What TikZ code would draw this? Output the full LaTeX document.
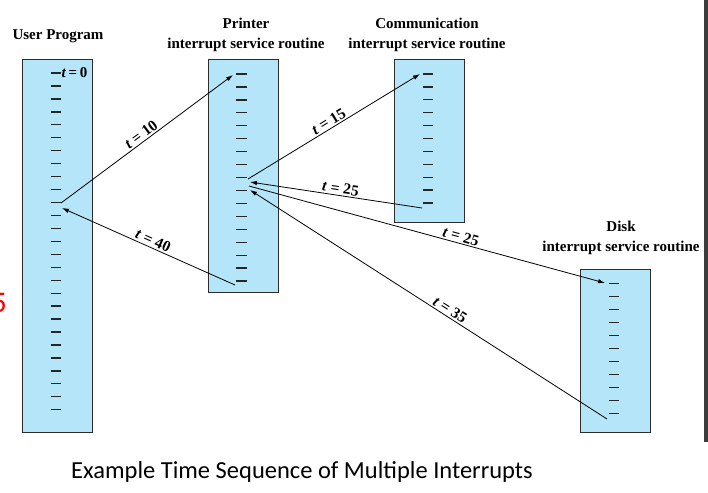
\documentclass[tikz,border=0pt]{standalone}
\usepackage{fontspec}
\setmainfont{Liberation Serif}
\newfontfamily\capfont{Carlito}
\usetikzlibrary{arrows.meta}
\definecolor{boxblue}{RGB}{180,229,248}
\definecolor{edgegray}{RGB}{45,45,45}
\definecolor{bargray}{RGB}{60,60,60}
\begin{document}
\begin{tikzpicture}[x=1pt,y=-1pt,
  isr/.style={draw=edgegray, line width=1.3pt, fill=boxblue, inner sep=0pt, anchor=north west},
  tickmark/.style={line width=1.3pt, draw=black!85},
  arr/.style={line width=0.8pt, -{Latex[length=7pt,width=4.5pt]}},
  hdr/.style={font=\bfseries\fontsize{15}{20}\selectfont, align=center, inner sep=0pt},
  lbl/.style={font=\bfseries\fontsize{15.5}{17}\selectfont, sloped, above, inner sep=1.5pt},
  capt/.style={font=\capfont\fontsize{24.5}{28}\selectfont, inner sep=0pt}
]
\clip (0,0) rectangle (708,492);
\fill[white] (0,0) rectangle (708,492);

% boxes
\node[isr, minimum width=70, minimum height=373] (user) at (22,59) {};
\node[isr, minimum width=70, minimum height=233] (printer) at (208,59) {};
\node[isr, minimum width=70, minimum height=163] (comm) at (394,59) {};
\node[isr, minimum width=70, minimum height=163] (disk) at (580,269) {};

% ticks
\foreach \k in {0,...,26} \draw[tickmark] (51,73+12.95*\k) -- ++(10,0);
\foreach \k in {0,...,16} \draw[tickmark] (236,74+12.94*\k) -- ++(11,0);
\foreach \k in {0,...,10} \draw[tickmark] (423,74+12.9*\k) -- ++(10,0);
\foreach \k in {0,...,10} \draw[tickmark] (609,283.3+13.04*\k) -- ++(10,0);

% headings
\node[hdr] (huser) at (58,36) {User Program};
\node[hdr] (hprinter) at (246,35) {Printer\\interrupt service routine};
\node[hdr] (hcomm) at (427,35) {Communication\\interrupt service routine};
\node[hdr] (hdisk) at (621,238) {Disk\\interrupt service routine};

% t = 0
\node[font=\bfseries\fontsize{15}{16}\selectfont, anchor=west, inner sep=0.5pt] (tzero) at (61,73) {\textit{t}\,=\,0};

% arrow end points
\coordinate (u10) at (61,203);
\coordinate (u40) at (62,208);
\coordinate (p0) at (233,75);
\coordinate (p15) at (248,179);
\coordinate (p25in) at (250,182);
\coordinate (p25out) at (249,186);
\coordinate (p35in) at (250,190);
\coordinate (p40) at (235,285);
\coordinate (c0) at (420,74);
\coordinate (c25) at (422,208);
\coordinate (d0) at (605,283);
\coordinate (d35) at (607,419);

% arrows
\draw[arr] (u10) -- node[lbl, pos=0.49] {\textit{t} = 10} (p0);
\draw[arr] (p15) -- node[lbl, pos=0.49] {\textit{t} = 15} (c0);
\draw[arr] (c25) -- node[lbl, pos=0.48] {\textit{t} = 25} (p25in);
\draw[arr] (p25out) -- node[lbl, pos=0.59] {\textit{t} = 25} (d0);
\draw[arr] (d35) -- node[lbl, pos=0.45] {\textit{t} = 35} (p35in);
\draw[arr] (p40) -- node[lbl, pos=0.49] {\textit{t} = 40} (u40);

% caption
\node[capt] (caption) at (302,472) {Example Time Sequence of Multiple Interrupts};

% page-edge remnants
\node[font=\capfont\fontsize{30}{32}\selectfont, text=red, anchor=east, inner sep=0pt] (redfive) at (7,303) {5};
\draw[line width=3.5pt, bargray] (706,0) -- (706,442);
\end{tikzpicture}
\end{document}
